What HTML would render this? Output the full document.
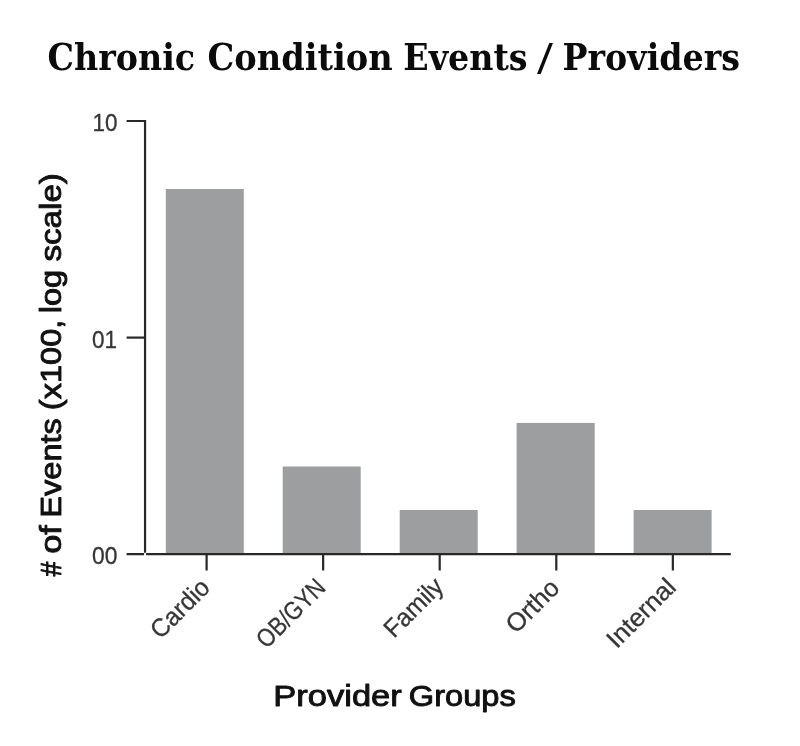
<!DOCTYPE html>
<html lang="en">
<head>
<meta charset="utf-8">
<title>Chronic Condition Events / Providers</title>
<style>
html,body{margin:0;padding:0;background:#fff;}
body{width:800px;height:746px;overflow:hidden;}
svg{display:block;}
.title{font-family:"DejaVu Serif Condensed","DejaVu Serif","Liberation Serif",serif;font-weight:bold;font-size:37px;fill:#0b0b0b;}
.axlabel{font-family:"Liberation Sans","DejaVu Sans",sans-serif;font-weight:normal;font-size:29.2px;fill:#111;stroke:#111;stroke-width:0.9px;stroke-linejoin:round;}
.tick{font-family:"Liberation Sans","DejaVu Sans",sans-serif;font-size:25.5px;fill:#363636;stroke:#363636;stroke-width:.3px;}
.ytick{font-size:24.6px;}
.bar{fill:#9d9e9f;}
.ax{stroke:#2a2728;stroke-width:2.2;fill:none;}
</style>
</head>
<body>
<svg width="800" height="746" viewBox="0 0 800 746">
<rect width="800" height="746" fill="#ffffff"/>
<text class="title" y="69.5"><tspan x="47.50" textLength="147.60" lengthAdjust="spacingAndGlyphs">Chronic</tspan> <tspan x="207.50" textLength="185.30" lengthAdjust="spacingAndGlyphs">Condition</tspan> <tspan x="403.30" textLength="124.20" lengthAdjust="spacingAndGlyphs">Events</tspan> <tspan style="font-weight:normal" x="537.00" textLength="16.00" lengthAdjust="spacingAndGlyphs">/</tspan> <tspan x="562.50" textLength="177.50" lengthAdjust="spacingAndGlyphs">Providers</tspan></text>

<!-- bars -->
<rect class="bar" x="165.8" y="189" width="78" height="365"/>
<rect class="bar" x="282.7" y="466.5" width="78" height="87.5"/>
<rect class="bar" x="399.7" y="510" width="78" height="44"/>
<rect class="bar" x="516.6" y="422.9" width="78.1" height="131.1"/>
<rect class="bar" x="633.6" y="510" width="78" height="44"/>

<!-- axes -->
<path class="ax" d="M126.6,121 H145.05 V552.8"/>
<path class="ax" d="M126.6,337.6 H145"/>
<path class="ax" d="M126.6,554.05 H144.1 M146.1,554.05 H730.8"/>
<path class="ax" d="M206.6,554 V570.4 M323.15,554 V570.4 M439.7,554 V570.4 M556.3,554 V570.4 M672.85,554 V570.4"/>

<!-- y tick labels -->
<text class="tick ytick" x="92.6" y="131.3" textLength="25" lengthAdjust="spacingAndGlyphs">10</text>
<text class="tick ytick" x="92.0" y="347.8" textLength="25" lengthAdjust="spacingAndGlyphs">01</text>
<text class="tick ytick" x="92.0" y="564.4" textLength="25.4" lengthAdjust="spacingAndGlyphs">00</text>

<!-- x tick labels -->
<text class="tick" text-anchor="end" transform="translate(211.4,589.2) rotate(-45)" textLength="72" lengthAdjust="spacingAndGlyphs">Cardio</text>
<text class="tick" text-anchor="end" transform="translate(327,589) rotate(-45)" textLength="85.4" lengthAdjust="spacingAndGlyphs">OB/GYN</text>
<text class="tick" text-anchor="end" transform="translate(445,588) rotate(-45)" textLength="72.2" lengthAdjust="spacingAndGlyphs">Family</text>
<text class="tick" text-anchor="end" transform="translate(561,589.5) rotate(-45)" textLength="63.6" lengthAdjust="spacingAndGlyphs">Ortho</text>
<text class="tick" text-anchor="end" transform="translate(677.5,588.6) rotate(-45)" textLength="86" lengthAdjust="spacingAndGlyphs">Internal</text>

<!-- axis labels -->
<text class="axlabel" transform="translate(60.9,577) rotate(-90)"><tspan x="0.80" textLength="14.50" lengthAdjust="spacingAndGlyphs">#</tspan> <tspan x="23.20" textLength="28.60" lengthAdjust="spacingAndGlyphs">of</tspan> <tspan x="59.30" textLength="99.50" lengthAdjust="spacingAndGlyphs">Events</tspan> <tspan x="166.80" textLength="90.50" lengthAdjust="spacingAndGlyphs">(x100,</tspan> <tspan x="263.70" textLength="43.50" lengthAdjust="spacingAndGlyphs">log</tspan> <tspan x="315.40" textLength="88.50" lengthAdjust="spacingAndGlyphs">scale)</tspan></text>
<text class="axlabel" y="705.7"><tspan x="273.30" textLength="128.50" lengthAdjust="spacingAndGlyphs">Provider</tspan> <tspan x="408.80" textLength="107.00" lengthAdjust="spacingAndGlyphs">Groups</tspan></text>
</svg>
</body>
</html>
